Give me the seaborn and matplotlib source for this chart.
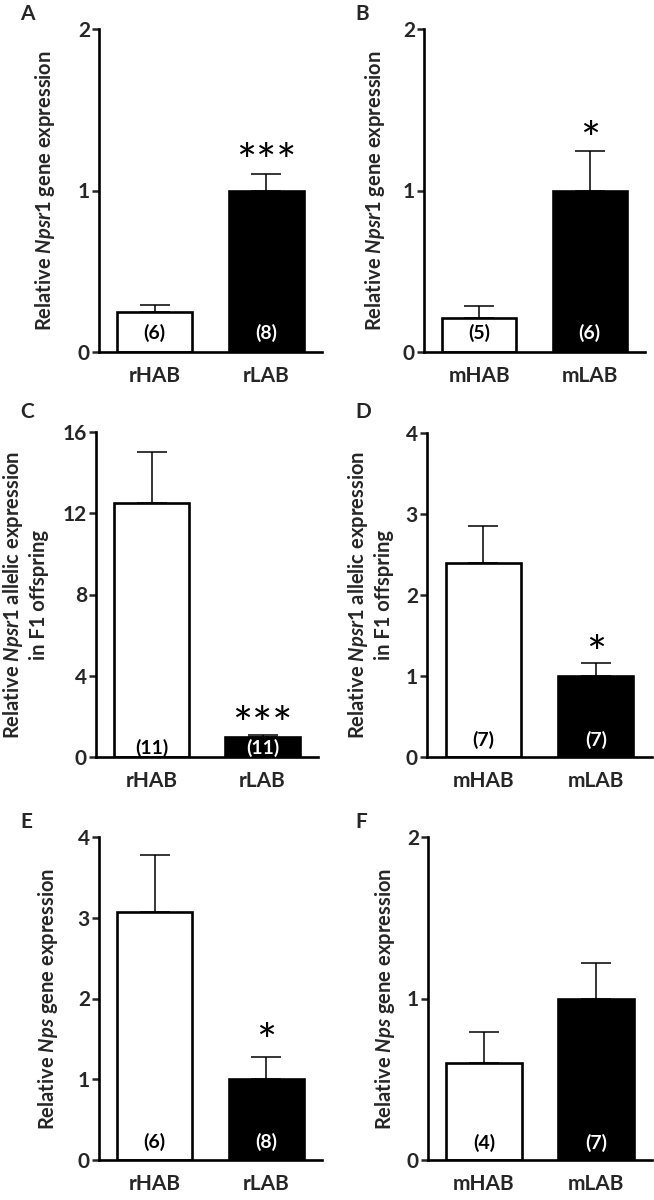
import numpy as np
import pandas as pd
import matplotlib
matplotlib.use("Agg")
import matplotlib.pyplot as plt
import seaborn as sns

# ---------------- data ----------------
rat_groups = ["rHAB", "rLAB"]
mouse_groups = ["mHAB", "mLAB"]

a_mean = [0.25, 1.00]
a_sem = [0.04, 0.10]
a_n = ["(6)", "(8)"]

b_mean = [0.21, 1.00]
b_sem = [0.075, 0.245]
b_n = ["(5)", "(6)"]

c_mean = [12.5, 1.00]
c_sem = [2.5, 0.10]
c_n = ["(11)", "(11)"]

d_mean = [2.39, 1.00]
d_sem = [0.46, 0.16]
d_n = ["(7)", "(7)"]

e_mean = [3.07, 1.00]
e_sem = [0.71, 0.28]
e_n = ["(6)", "(8)"]

f_mean = [0.60, 1.00]
f_sem = [0.19, 0.22]
f_n = ["(4)", "(7)"]

stars = ["***", "*", "***", "*", "*", ""]
letters = ["A", "B", "C", "D", "E", "F"]
yticks_ab = [0, 1, 2]
yticks_c = [0, 4, 8, 12, 16]
yticks_de = [0, 1, 2, 3, 4]

lab_npsr1 = r"Relative $\mathit{Npsr1}$ gene expression"
lab_allelic = "Relative $\\mathit{Npsr1}$ allelic expression\nin F1 offspring"
lab_nps = r"Relative $\mathit{Nps}$ gene expression"

# ---------------- style ----------------
sns.set_style("ticks")
plt.rcParams["font.family"] = ["Lato", "DejaVu Sans"]
plt.rcParams["font.weight"] = "bold"
plt.rcParams["mathtext.fontset"] = "custom"
plt.rcParams["mathtext.it"] = "Lato:italic:bold"
plt.rcParams["mathtext.rm"] = "Lato:bold"
plt.rcParams["mathtext.bf"] = "Lato:bold"

W, H = 654, 1200
fig = plt.figure(figsize=(W / 100, H / 100), dpi=100)
fig.patch.set_facecolor("white")

panels = [
    dict(groups=rat_groups, mean=a_mean, sem=a_sem, n=a_n, yt=yticks_ab, lab=lab_npsr1),
    dict(groups=mouse_groups, mean=b_mean, sem=b_sem, n=b_n, yt=yticks_ab, lab=lab_npsr1),
    dict(groups=rat_groups, mean=c_mean, sem=c_sem, n=c_n, yt=yticks_c, lab=lab_allelic),
    dict(groups=mouse_groups, mean=d_mean, sem=d_sem, n=d_n, yt=yticks_de, lab=lab_allelic),
    dict(groups=rat_groups, mean=e_mean, sem=e_sem, n=e_n, yt=yticks_de, lab=lab_nps),
    dict(groups=mouse_groups, mean=f_mean, sem=f_sem, n=f_n, yt=yticks_ab, lab=lab_nps),
]

# layout in pixels: left, top, right, bottom
rects = [(99, 29, 322, 352), (424, 29, 645, 352),
         (96, 432, 318, 757), (427, 433, 652, 757),
         (99, 837, 322, 1160), (428, 837, 652, 1160)]
label_x = [-0.188, -0.167, -0.21, -0.147, -0.175, -0.138]
n_off = [13.5, 13.5, 6.5, 12.5, 13, 12.5]
star_off = [-2, -3, -4, -4, 0, 0]
letter_pos = [(20, 14), (355, 14), (20, 412), (355, 412), (20, 822), (355, 822)]

for i, p in enumerate(panels):
    l, t, r, b = rects[i]
    ax = fig.add_axes([l / W, 1 - b / H, (r - l) / W, (b - t) / H])
    df = pd.DataFrame({"group": p["groups"], "value": p["mean"]})
    sns.barplot(data=df, x="group", y="value", hue="group",
                palette=["white", "black"], edgecolor="black", linewidth=1.9,
                width=0.67, errorbar=None, legend=False, ax=ax, zorder=2)
    xs = np.arange(len(p["groups"]))
    ax.errorbar(xs, p["mean"], yerr=[np.zeros(len(xs)), p["sem"]], fmt="none",
                ecolor="black", elinewidth=1.1, capsize=10.5, capthick=1.1, zorder=1)
    ax.set_xlim(-0.5, 1.5)
    ax.set_ylim(0, p["yt"][-1])
    ax.set_yticks(p["yt"])
    ax.set_yticklabels([str(v) for v in p["yt"]], fontsize=15, fontweight="bold")
    ax.set_xticks(xs)
    ax.set_xticklabels(p["groups"], fontsize=15, fontweight="bold")
    ax.tick_params(axis="x", length=0, pad=10)
    ax.tick_params(axis="y", length=5, width=1.8, pad=1.5, direction="out")
    for s in ["top", "right"]:
        ax.spines[s].set_visible(False)
    for s in ["left", "bottom"]:
        ax.spines[s].set_linewidth(1.9)
        ax.spines[s].set_color("black")
    ax.set_xlabel("")
    ax.set_ylabel(p["lab"], fontsize=14.5, fontweight="bold", linespacing=1.25)
    ax.yaxis.set_label_coords(label_x[i], 0.5)
    for j, txt in enumerate(p["n"]):
        ax.annotate(txt, xy=(j, 0), xytext=(0, n_off[i]), textcoords="offset points",
                    ha="center", va="center", fontsize=14, fontweight="bold",
                    color="black" if j == 0 else "white", zorder=5)
    if stars[i]:
        ax.annotate(stars[i], xy=(1, p["mean"][1] + p["sem"][1]), xytext=(0, star_off[i]),
                    textcoords="offset points", ha="center", va="baseline",
                    fontsize=34, fontweight="normal", color="black", zorder=5)
    lx, ly = letter_pos[i]
    fig.text(lx / W, 1 - ly / H, letters[i], fontsize=15, fontweight="bold",
             ha="left", va="center")

fig.savefig("out.png", dpi=100, facecolor="white")
